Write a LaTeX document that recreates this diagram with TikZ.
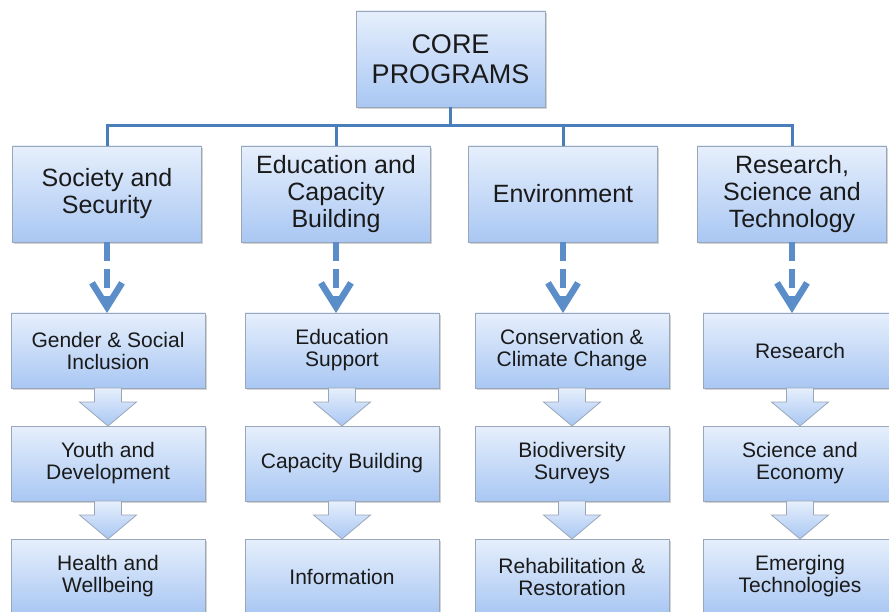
\documentclass[tikz,border=0pt]{standalone}
\usepackage{fontspec}
\setmainfont{Liberation Sans}
\usepackage{tikz}
\usetikzlibrary{positioning, arrows.meta, calc, shadows}
\definecolor{cpline}{HTML}{4A7EBB}
\definecolor{cparrow}{HTML}{5B8DC8}
\definecolor{cptop}{HTML}{E6EFFC}
\definecolor{cpbottom}{HTML}{A9C7F3}
\definecolor{cpborder}{HTML}{9AA7B8}
\definecolor{cptext}{HTML}{1A1A1A}

% block arrow between two stacked topics
\newcommand{\flowarrow}[2]{%
  \draw[blockarr] ($(#1.south)+(-13.5,0)$) -- ++(0,-14) -- ++(-15,0)
    -- (#2.north) -- ++(28.5,24) -- ++(-15,0) -- ($(#1.south)+(13.5,0)$) -- cycle;}

\begin{document}
\begin{tikzpicture}[
  x=1pt, y=1pt,
  box/.style={
    rectangle, draw=cpborder, line width=0.8pt,
    top color=cptop, bottom color=cpbottom,
    outer sep=0pt, inner sep=4pt, align=center, text=cptext,
    drop shadow={shadow xshift=1.5pt, shadow yshift=-2pt, opacity=0.35}
  },
  core/.style={box, minimum width=189pt, minimum height=96pt,
    font=\fontsize{27}{30}\selectfont},
  program/.style={box, minimum width=189pt, minimum height=96pt,
    font=\fontsize{25}{27}\selectfont},
  topic/.style={box, minimum width=194pt, minimum height=75pt,
    font=\fontsize{21}{22}\selectfont},
  bus/.style={cpline, line width=3pt},
  droparr/.style={cparrow, line width=6.5pt, dash pattern=on 19pt off 8pt,
    -{Straight Barb[length=24pt, width=30pt]}},
  blockarr/.style={draw=cpborder, line width=0.8pt,
    top color=cptop, bottom color=cpbottom},
]
\useasboundingbox (0,0) rectangle (889,-612);
\clip (0,0) rectangle (889,-612);

% Root
\node[core] (core) at (450.5,-59) {CORE\\PROGRAMS};

% Programs
\node[program] (soc) at (107,-194) {Society and\\Security};
\node[program, right=40pt of soc] (edu) {Education and\\Capacity\\Building};
\node[program, right=38pt of edu] (env) {Environment};
\node[program, right=40pt of env] (rst) {Research,\\Science and\\Technology};

% Topics
\node[topic, below=71pt of soc, xshift=1pt] (gsi) {Gender \& Social\\Inclusion};
\node[topic, below=38pt of gsi] (yad) {Youth and\\Development};
\node[topic, below=38pt of yad] (haw) {Health and\\Wellbeing};

\node[topic, below=71pt of edu, xshift=6pt] (esu) {Education\\Support};
\node[topic, below=38pt of esu] (cab) {Capacity Building};
\node[topic, below=38pt of cab] (inf) {Information};

\node[topic, below=71pt of env, xshift=9pt] (ccc) {Conservation \&\\Climate Change};
\node[topic, below=38pt of ccc] (bsu) {Biodiversity\\Surveys};
\node[topic, below=38pt of bsu] (rar) {Rehabilitation \&\\Restoration};

\node[topic, below=71pt of rst, xshift=8pt] (res) {Research};
\node[topic, below=38pt of res] (sae) {Science and\\Economy};
\node[topic, below=38pt of sae] (emt) {Emerging\\Technologies};

% Root to programs
\draw[bus] (core.south) -- ++(0,-19) coordinate (hub);
\draw[bus] (soc.north) |- (hub) -| (rst.north);
\draw[bus] (edu.north) -- (edu.north |- hub);
\draw[bus] (env.north) -- (env.north |- hub);

% Programs to topics
\draw[droparr] (soc.south) -- (soc.south |- gsi.north);
\draw[droparr] (edu.south) -- (edu.south |- esu.north);
\draw[droparr] (env.south) -- (env.south |- ccc.north);
\draw[droparr] (rst.south) -- (rst.south |- res.north);

% Topic chains
\flowarrow{gsi}{yad}
\flowarrow{yad}{haw}
\flowarrow{esu}{cab}
\flowarrow{cab}{inf}
\flowarrow{ccc}{bsu}
\flowarrow{bsu}{rar}
\flowarrow{res}{sae}
\flowarrow{sae}{emt}

\end{tikzpicture}
\end{document}
